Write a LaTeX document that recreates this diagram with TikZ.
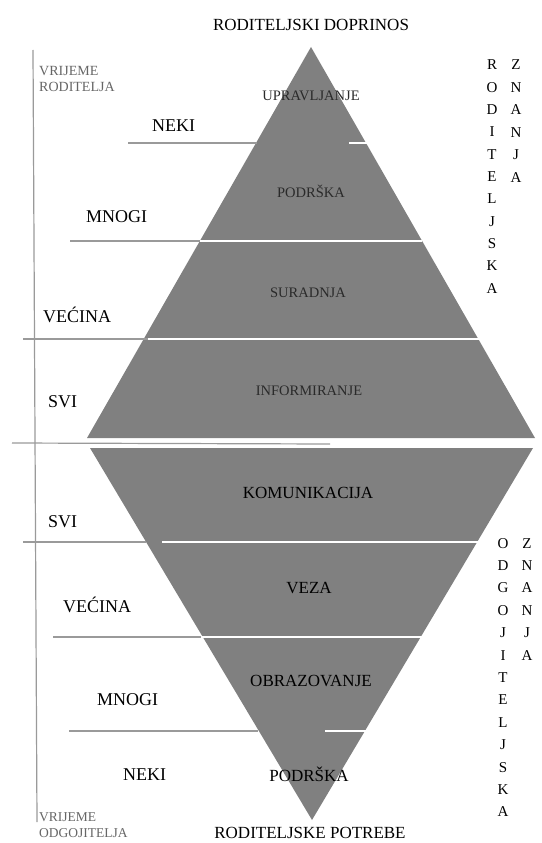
\documentclass[tikz,border=0pt]{standalone}
\usepackage{fontspec}
\setmainfont{Liberation Serif}
\definecolor{pyr}{HTML}{808080}
\definecolor{rule}{HTML}{9A9A9A}
\definecolor{inner}{HTML}{2A2A2A}
\definecolor{note}{HTML}{666666}
\begin{document}
\begin{tikzpicture}[x=1pt,y=-1pt,
  level/.style={draw=white,line width=1.8pt},
  guide/.style={draw=rule,line width=1.2pt},
  caption/.style={anchor=base,inner sep=0pt,font=\fontsize{17}{17}\selectfont},
  group/.style={anchor=base west,inner sep=0pt,font=\fontsize{18}{18}\selectfont},
  upper/.style={anchor=base,inner sep=0pt,text=inner,font=\fontsize{14.5}{14.5}\selectfont},
  lower/.style={anchor=base,inner sep=0pt,font=\fontsize{17}{17}\selectfont},
  timelbl/.style={anchor=base west,inner sep=0pt,text=note,align=left,font=\fontsize{14}{17}\selectfont},
  timelbllow/.style={timelbl,font=\fontsize{13.5}{15.5}\selectfont},
  letter/.style={anchor=base,inner sep=0pt,font=\fontsize{15}{15}\selectfont}]
\useasboundingbox (0,0) rectangle (541,843);

% the two pyramids
\fill[pyr] (311,47) -- (87,438) -- (535,438) -- cycle;
\fill[pyr] (90,448) -- (533,448) -- (312,820) -- cycle;

% time axis on the left
\draw[guide] (33,50) -- (37,822);

% level boundaries, upper pyramid
\draw[guide] (128,143) -- (257,143);
\draw[level] (349,143) -- (368,143);
\draw[guide] (70,241) -- (200,241);
\draw[level] (200,241) -- (422,241);
\draw[guide] (23,339) -- (148,339);
\draw[level] (148,339) -- (479,339);

% divider between the pyramids
\draw[guide] (12,443) -- (330,444);

% level boundaries, lower pyramid
\draw[guide] (23,542) -- (146,542);
\draw[level] (162,542) -- (479,542);
\draw[guide] (53,637) -- (201,637);
\draw[level] (201,637) -- (422,637);
\draw[guide] (69,731) -- (258,731);
\draw[level] (325,731) -- (368,731);

% titles
\node[caption] (contrib) at (311,31) {RODITELJSKI DOPRINOS};
\node[caption] (needs) at (310,838) {RODITELJSKE POTREBE};

% time labels (base anchor sits on the last line)
\node[timelbl] (tparent) at (39,92) {VRIJEME\\RODITELJA};
\node[timelbllow] (tteacher) at (39,837) {VRIJEME\\ODGOJITELJA};

% upper pyramid levels
\node[upper] (u1) at (311,100) {UPRAVLJANJE};
\node[upper] (u2) at (311,197) {PODRŠKA};
\node[upper] (u3) at (308,297) {SURADNJA};
\node[upper] (u4) at (309,395) {INFORMIRANJE};

% lower pyramid levels
\node[lower] (l1) at (308,498) {KOMUNIKACIJA};
\node[lower] (l2) at (309,593) {VEZA};
\node[lower] (l3) at (311,686) {OBRAZOVANJE};
\node[lower] (l4) at (309,781) {PODRŠKA};

% group sizes, upper part
\node[group] (g1) at (152,131) {NEKI};
\node[group] (g2) at (86,222) {MNOGI};
\node[group] (g3) at (43,322) {VEĆINA};
\node[group] (g4) at (48,407) {SVI};

% group sizes, lower part
\node[group] (g5) at (48,527) {SVI};
\node[group] (g6) at (63,612) {VEĆINA};
\node[group] (g7) at (97,705) {MNOGI};
\node[group] (g8) at (123,780) {NEKI};

% vertical words on the right
\foreach \ch [count=\i from 0] in {R,O,D,I,T,E,L,J,S,K,A}
  \node[letter] (pa\i) at (492,70+22.3*\i) {\ch};
\foreach \ch [count=\i from 0] in {Z,N,A,N,J,A}
  \node[letter] (pb\i) at (516,70+22.4*\i) {\ch};
\foreach \ch [count=\i from 0] in {O,D,G,O,J,I,T,E,L,J,S,K,A}
  \node[letter] (ta\i) at (503,548+22.4*\i) {\ch};
\foreach \ch [count=\i from 0] in {Z,N,A,N,J,A}
  \node[letter] (tb\i) at (527,548+22.4*\i) {\ch};
\end{tikzpicture}
\end{document}
